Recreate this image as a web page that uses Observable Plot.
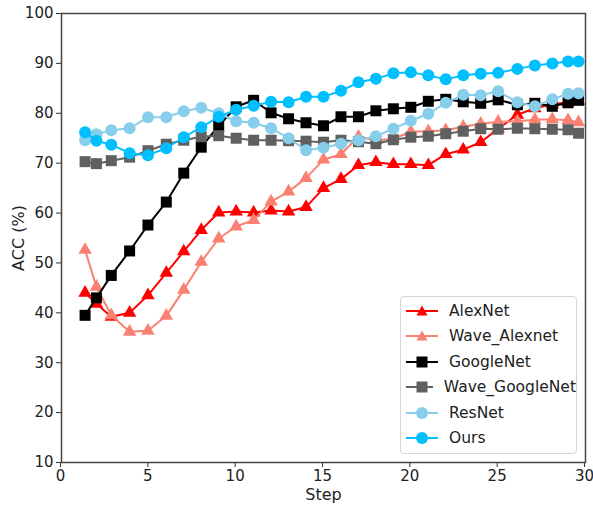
<!DOCTYPE html>
<html>
<head>
<meta charset="utf-8">
<script src="https://cdn.jsdelivr.net/npm/d3@7"></script>
<script src="https://cdn.jsdelivr.net/npm/@observablehq/plot@0.6"></script>
<style>
  html, body { margin: 0; padding: 0; background: #fff; }
  #wrap { position: relative; width: 593px; height: 505px; font-family: "DejaVu Sans", sans-serif; }
  #legend {
    position: absolute; left: 400px; top: 296px; width: 177px; height: 158px;
    border: 1px solid #d6d6d6; border-radius: 4px; background: rgba(255,255,255,0.85);
    box-sizing: border-box; padding-top: 1px;
  }
  .row { display: flex; align-items: center; height: 25.5px; font-size: 15.5px; color: #222; }
  .row svg { margin-left: 5px; margin-right: 11px; }
</style>
</head>
<body>
<div id="wrap">
  <div id="chart"></div>
  <div id="legend"></div>
</div>
<script>
const steps = [1.35, 2, 2.85, 3.9, 4.95, 6, 7, 8, 9, 10, 11, 12, 13, 14, 15, 16, 17, 18, 19, 20, 21, 22, 23, 24, 25, 26.1, 27.1, 28.1, 29, 29.6];

const seriesNames = ["AlexNet", "Wave_Alexnet", "GoogleNet", "Wave_GoogleNet", "ResNet", "Ours"];
const seriesColors = ["#ff0000", "#fa8072", "#000000", "#606060", "#87ceeb", "#00bfff"];
const seriesSymbols = ["triangle", "triangle", "square", "square", "circle", "circle"];

const alexNet = [44, 41.8, 39.2, 40, 43.5, 48, 52.3, 56.6, 60.1, 60.3, 60.1, 60.5, 60.3, 61.2, 65, 66.8, 69.6, 70.2, 69.8, 69.8, 69.6, 71.8, 72.7, 74.2, 76.9, 79.7, 81, 81.8, 82.2, 82.5];
const waveAlexnet = [52.6, 45.2, 39.5, 36.2, 36.4, 39.4, 44.6, 50.2, 54.9, 57.3, 58.6, 62.3, 64.3, 67, 70.7, 71.8, 75.3, 74.6, 74.9, 76.3, 76.4, 76.6, 77.3, 77.9, 78.3, 78.4, 78.7, 78.8, 78.6, 78.2];
const googleNet = [39.5, 43, 47.5, 52.4, 57.6, 62.2, 68, 73.2, 77.5, 81.3, 82.6, 80.1, 78.9, 78.1, 77.5, 79.3, 79.3, 80.5, 80.9, 81.2, 82.4, 82.8, 82.3, 82, 82.7, 81.7, 82, 81.4, 82.1, 82.6];
const waveGoogleNet = [70.3, 69.9, 70.5, 71.2, 72.5, 73.8, 74.6, 75.3, 75.5, 75, 74.6, 74.6, 74.5, 74.4, 74.2, 74.6, 74.3, 73.9, 74.7, 75.2, 75.4, 75.9, 76.4, 76.9, 76.8, 77, 76.9, 76.8, 76.7, 76.0];
const resNet = [74.6, 75.8, 76.6, 77, 79.2, 79.2, 80.4, 81.1, 80, 78.4, 78.1, 77, 75, 72.6, 73.1, 73.9, 74.6, 75.4, 76.9, 78.5, 79.9, 82.1, 83.7, 83.6, 84.4, 82.2, 81.4, 82.8, 83.9, 84];
const ours = [76.2, 74.5, 73.7, 72, 71.6, 73, 75.2, 77.2, 79.3, 80.7, 81.5, 82.3, 82.2, 83.3, 83.3, 84.5, 86.2, 86.9, 88, 88.2, 87.6, 86.8, 87.6, 87.9, 88.1, 88.9, 89.6, 90, 90.4, 90.4];

const xTicks = [0, 5, 10, 15, 20, 25, 30];
const yTicks = [10, 20, 30, 40, 50, 60, 70, 80, 90, 100];
const xLabel = "Step";
const yLabel = "ACC (%)";

const allValues = [alexNet, waveAlexnet, googleNet, waveGoogleNet, resNet, ours];
const symbolSize = {triangle: 5, square: 6.2, circle: 6};

const marks = [];
seriesNames.forEach((name, i) => {
  const rows = steps.map((s, j) => ({step: s, acc: allValues[i][j], name}));
  marks.push(Plot.line(rows, {x: "step", y: "acc", stroke: seriesColors[i], strokeWidth: 2}));
  marks.push(Plot.dot(rows, {x: "step", y: "acc", fill: seriesColors[i], symbol: seriesSymbols[i], r: symbolSize[seriesSymbols[i]], stroke: "none"}));
});

const chart = Plot.plot({
  width: 593,
  height: 505,
  marginLeft: 61,
  marginRight: 8,
  marginTop: 13,
  marginBottom: 43,
  style: {fontFamily: "DejaVu Sans, sans-serif", fontSize: "15px", color: "#222", background: "#fff", overflow: "visible"},
  x: {domain: [0, 30]},
  y: {domain: [10, 100]},
  marks: [
    Plot.axisX({ticks: xTicks, tickSize: 5, tickPadding: 3, label: null, stroke: "#333", fontSize: 15, dx: -1}),
    Plot.axisY({ticks: yTicks, tickSize: 5, tickPadding: 3, label: null, stroke: "#333", fontSize: 15}),
    Plot.text([xLabel], {frameAnchor: "bottom", dy: 32, lineAnchor: "middle", textAnchor: "middle", text: d => d, fontSize: 16, fill: "#222"}),
    Plot.text([yLabel], {frameAnchor: "left", dx: -43, rotate: -90, textAnchor: "middle", lineAnchor: "middle", text: d => d, fontSize: 16, fill: "#222"}),
    ...marks,
    Plot.frame({stroke: "#444", strokeWidth: 1.5})
  ]
});
document.getElementById("chart").appendChild(chart);

// legend
const legend = document.getElementById("legend");
const symPath = {
  triangle: "M16,2.5 L21.5,12.5 L10.5,12.5 Z",
  square: "M10.5,2.5 H21.5 V13.5 H10.5 Z"
};
seriesNames.forEach((name, i) => {
  const row = document.createElement("div");
  row.className = "row";
  const c = seriesColors[i];
  let marker;
  if (seriesSymbols[i] === "circle") marker = `<circle cx="16" cy="8" r="6" fill="${c}"/>`;
  else marker = `<path d="${symPath[seriesSymbols[i]]}" fill="${c}"/>`;
  row.innerHTML = `<svg width="32" height="16"><line x1="0" x2="32" y1="8" y2="8" stroke="${c}" stroke-width="2"/>${marker}</svg><span>${name}</span>`;
  legend.appendChild(row);
});
</script>
</body>
</html>
